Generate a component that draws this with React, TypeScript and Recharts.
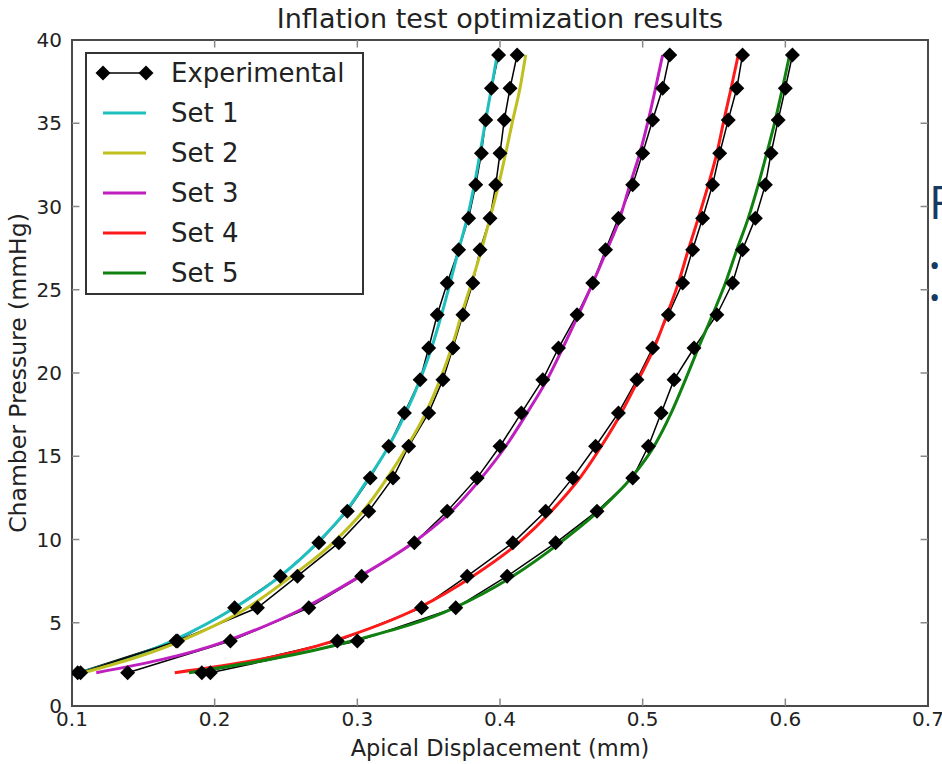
import { LineChart, Line, XAxis, YAxis, ReferenceArea, ReferenceLine } from 'recharts';

// pressure steps shared by every curve (mmHg)
const pressure = [2.0, 3.9, 5.9, 7.8, 9.8, 11.7, 13.7, 15.6, 17.6, 19.6, 21.5, 23.5, 25.4, 27.4, 29.3, 31.3, 33.2, 35.2, 37.1, 39.1];

// experimental apical displacement (mm), one array per specimen
const exp1 = [0.104, 0.173, 0.214, 0.246, 0.273, 0.293, 0.309, 0.322, 0.333, 0.344, 0.350, 0.356, 0.363, 0.371, 0.378, 0.383, 0.387, 0.390, 0.394, 0.399];
const exp2 = [0.106, 0.174, 0.230, 0.258, 0.287, 0.308, 0.325, 0.336, 0.350, 0.360, 0.367, 0.374, 0.381, 0.386, 0.393, 0.397, 0.400, 0.403, 0.407, 0.412];
const exp3 = [0.139, 0.211, 0.266, 0.303, 0.340, 0.363, 0.384, 0.400, 0.415, 0.430, 0.441, 0.454, 0.465, 0.474, 0.483, 0.493, 0.500, 0.507, 0.514, 0.519];
const exp4 = [0.191, 0.286, 0.345, 0.377, 0.409, 0.432, 0.451, 0.467, 0.483, 0.496, 0.507, 0.518, 0.528, 0.535, 0.542, 0.549, 0.554, 0.560, 0.566, 0.570];
const exp5 = [0.197, 0.300, 0.369, 0.405, 0.439, 0.468, 0.493, 0.504, 0.513, 0.522, 0.536, 0.552, 0.563, 0.570, 0.579, 0.586, 0.590, 0.595, 0.600, 0.605];

// optimised model curves
const set1 = [0.106, 0.170, 0.214, 0.246, 0.272, 0.292, 0.308, 0.322, 0.334, 0.344, 0.352, 0.359, 0.365, 0.371, 0.377, 0.382, 0.386, 0.390, 0.394, 0.398];
const set2 = [0.108, 0.176, 0.223, 0.254, 0.283, 0.304, 0.321, 0.335, 0.348, 0.358, 0.366, 0.373, 0.380, 0.387, 0.393, 0.399, 0.404, 0.409, 0.414, 0.418];
const set3 = [0.117, 0.208, 0.263, 0.302, 0.339, 0.366, 0.387, 0.404, 0.419, 0.433, 0.444, 0.455, 0.465, 0.475, 0.484, 0.491, 0.498, 0.504, 0.509, 0.514];
const set4 = [0.172, 0.283, 0.343, 0.381, 0.413, 0.436, 0.456, 0.471, 0.485, 0.497, 0.508, 0.517, 0.525, 0.532, 0.539, 0.546, 0.552, 0.557, 0.562, 0.567];
const set5 = [0.182, 0.296, 0.368, 0.409, 0.442, 0.469, 0.492, 0.508, 0.520, 0.530, 0.539, 0.549, 0.558, 0.566, 0.574, 0.581, 0.587, 0.593, 0.598, 0.603];

const expSeries = [exp1, exp2, exp3, exp4, exp5];
const setSeries = [set1, set2, set3, set4, set5];
const setNames = ['Set 1', 'Set 2', 'Set 3', 'Set 4', 'Set 5'];
const setColors = ['#1fbfbf', '#bfbf1f', '#bf1fbf', '#ff1a1a', '#108010'];

const xTicks = [0.1, 0.2, 0.3, 0.4, 0.5, 0.6, 0.7];
const yTicks = [0, 5, 10, 15, 20, 25, 30, 35, 40];

const FONT = '"DejaVu Sans", sans-serif';
const FRAME = '#4a4a4a';

const toPoints = (xs: number[]) => pressure.map((p, i) => ({ d: xs[i], p }));

const Diamond = (props: any) => {
  const { cx, cy } = props;
  if (cx == null || cy == null) return null;
  const r = 7.5;
  return <path key={props.key ?? `${cx}-${cy}`} d={`M${cx},${cy - r}L${cx + r},${cy}L${cx},${cy + r}L${cx - r},${cy}Z`} fill="#000" />;
};

const LegendBox = () => {
  const rows = [{ name: 'Experimental', color: '#000', exp: true }, ...setNames.map((n, i) => ({ name: n, color: setColors[i], exp: false }))];
  return (
    <svg width={280} height={244} style={{ position: 'absolute', left: 85, top: 52 }}>
      <rect x={1} y={1} width={277} height={241} fill="#fff" stroke="#333" strokeWidth={2} />
      {rows.map((r, i) => {
        const y = 21 + i * 40;
        return (
          <g key={r.name}>
            <line x1={18} x2={61} y1={y} y2={y} stroke={r.color} strokeWidth={r.exp ? 1.5 : 3} />
            {r.exp && <Diamond cx={18} cy={y} />}
            {r.exp && <Diamond cx={61} cy={y} />}
            <text x={86} y={y + 9} fontSize={26} fontFamily={FONT} fill="#222">{r.name}</text>
          </g>
        );
      })}
    </svg>
  );
};

export default function App() {
  const order: { data: any[]; color: string; exp: boolean; key: string }[] = [];
  expSeries.forEach((e, i) => {
    order.push({ data: toPoints(e), color: '#000', exp: true, key: `exp${i + 1}` });
    order.push({ data: toPoints(setSeries[i]), color: setColors[i], exp: false, key: `set${i + 1}` });
  });

  return (
    <div style={{ position: 'absolute', left: 0, top: 0, width: 942, height: 764, background: '#fff', overflow: 'hidden' }}>
      <div style={{ position: 'absolute', left: 0, top: 3, width: 1000, textAlign: 'center', fontFamily: FONT, fontSize: 27, color: '#222' }}>
        Inflation test optimization results
      </div>
      <LineChart width={942} height={764} margin={{ top: 40, right: 14, bottom: 0, left: 0 }}>
        <XAxis
          dataKey="d"
          type="number"
          domain={[0.1, 0.7]}
          ticks={xTicks}
          allowDataOverflow
          tickFormatter={(v: number) => v.toFixed(1)}
          axisLine={false}
          tickLine={false}
          tickSize={0}
          tickMargin={6}
          height={58}
          tick={{ fontSize: 20, fontFamily: FONT, fill: '#222' }}
          label={{ value: 'Apical Displacement (mm)', position: 'insideBottom', offset: 8, fontSize: 22.5, fontFamily: FONT, fill: '#222' }}
        />
        <YAxis
          dataKey="p"
          type="number"
          domain={[0, 40]}
          ticks={yTicks}
          allowDataOverflow
          axisLine={false}
          tickLine={false}
          tickSize={0}
          tickMargin={10}
          width={72}
          tick={{ fontSize: 20, fontFamily: FONT, fill: '#222' }}
          label={{ value: 'Chamber Pressure (mmHg)', angle: -90, position: 'insideLeft', offset: 18, fontSize: 23.5, fontFamily: FONT, fill: '#222', style: { textAnchor: 'middle' } }}
        />
        <ReferenceArea x1={0.1} x2={0.7} y1={0} y2={40} fill="none" stroke={FRAME} strokeWidth={2} ifOverflow="visible" />
        {xTicks.slice(1, -1).map((t) => (
          <ReferenceLine key={`bx${t}`} segment={[{ x: t, y: 0 }, { x: t, y: 0.45 }]} stroke="#888" strokeWidth={1.5} />
        ))}
        {xTicks.slice(1, -1).map((t) => (
          <ReferenceLine key={`tx${t}`} segment={[{ x: t, y: 40 }, { x: t, y: 39.55 }]} stroke="#888" strokeWidth={1.5} />
        ))}
        {yTicks.slice(1, -1).map((t) => (
          <ReferenceLine key={`ly${t}`} segment={[{ x: 0.1, y: t }, { x: 0.1052, y: t }]} stroke="#888" strokeWidth={1.5} />
        ))}
        {yTicks.slice(1, -1).map((t) => (
          <ReferenceLine key={`ry${t}`} segment={[{ x: 0.7, y: t }, { x: 0.6948, y: t }]} stroke="#888" strokeWidth={1.5} />
        ))}
        {order.map((s) =>
          s.exp ? (
            <Line key={s.key} data={s.data} dataKey="p" type="linear" stroke="#000" strokeWidth={1.5} dot={Diamond} activeDot={false} isAnimationActive={false} />
          ) : (
            <Line key={s.key} data={s.data} dataKey="p" type="monotone" stroke={s.color} strokeWidth={3} dot={false} activeDot={false} isAnimationActive={false} />
          )
        )}
      </LineChart>
      <LegendBox />
      <div style={{ position: 'absolute', left: 929, top: 178, fontFamily: '"Open Sans", sans-serif', fontSize: 46, color: '#173a63', lineHeight: 1 }}>F</div>
      <div style={{ position: 'absolute', left: 929, top: 250, fontFamily: '"Open Sans", sans-serif', fontSize: 30, color: '#173a63', lineHeight: 1 }}>•</div>
      <div style={{ position: 'absolute', left: 929, top: 282, fontFamily: '"Open Sans", sans-serif', fontSize: 30, color: '#173a63', lineHeight: 1 }}>•</div>
    </div>
  );
}
